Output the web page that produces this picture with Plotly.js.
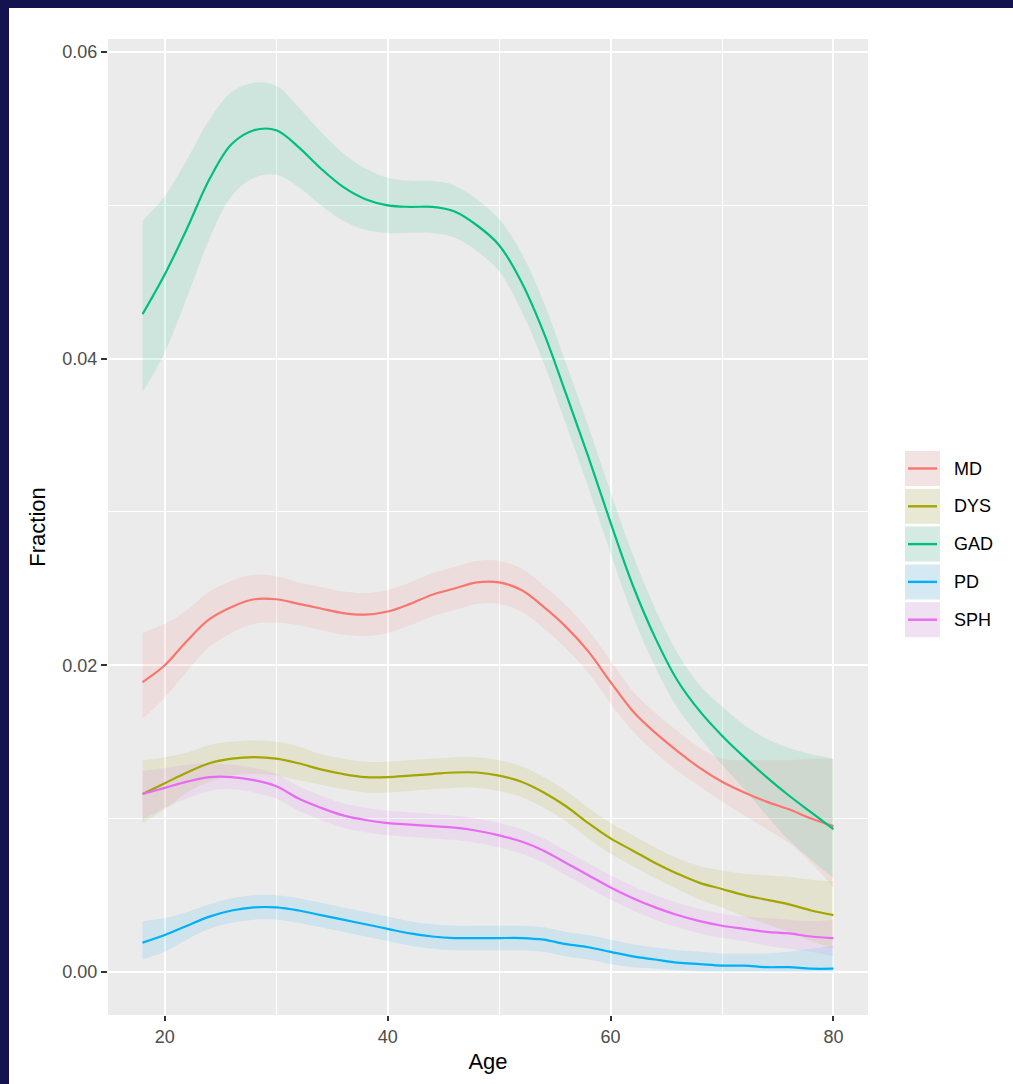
<!DOCTYPE html>
<html>
<head>
<meta charset="utf-8">
<script src="https://cdn.plot.ly/plotly-3.0.1.min.js"></script>
<style>
  html, body { margin: 0; padding: 0; width: 1013px; height: 1084px; background: #15134f; overflow: hidden; }
  #chart { position: absolute; left: 9px; top: 8px; width: 1004px; height: 1076px; background: #ffffff; }
</style>
</head>
<body>
<div id="chart"></div>
<script>
// ---- data ----
const ages = [18,20,22,24,26,28,30,32,34,36,38,40,42,44,46,48,50,52,54,56,58,60,62,64,66,68,70,72,74,76,78,80];

const seriesNames = ["MD", "DYS", "GAD", "PD", "SPH"];
const seriesColors = ["#F8766D", "#A3A500", "#00BF7D", "#00B0F6", "#E76BF3"];

const mdFit = [0.0189,0.0200,0.0216,0.0230,0.0238,0.0243,0.0243,0.0240,0.0237,0.0234,0.0233,0.0235,0.0240,0.0246,0.0250,0.0254,0.0254,0.0249,0.0238,0.0225,0.0209,0.0189,0.0170,0.0156,0.0144,0.0133,0.0124,0.0117,0.0111,0.0106,0.0100,0.0095];
const mdUpper = [0.0221,0.0227,0.0236,0.0248,0.0255,0.0259,0.0258,0.0254,0.0251,0.0248,0.0247,0.0249,0.0254,0.0260,0.0264,0.0268,0.0268,0.0263,0.0252,0.0239,0.0223,0.0203,0.0183,0.0169,0.0157,0.0146,0.0139,0.0138,0.0138,0.0138,0.0139,0.0139];
const mdLower = [0.0165,0.0179,0.0196,0.0212,0.0221,0.0227,0.0228,0.0226,0.0223,0.0220,0.0219,0.0221,0.0226,0.0232,0.0236,0.0240,0.0240,0.0235,0.0224,0.0211,0.0195,0.0175,0.0157,0.0143,0.0131,0.0121,0.0111,0.0102,0.0093,0.0084,0.0071,0.0055];

const dysFit = [0.0116,0.0123,0.0130,0.0136,0.0139,0.0140,0.0139,0.0136,0.0132,0.0129,0.0127,0.0127,0.0128,0.0129,0.0130,0.0130,0.0128,0.0124,0.0117,0.0108,0.0097,0.0087,0.0079,0.0071,0.0064,0.0058,0.0054,0.0050,0.0047,0.0044,0.0040,0.0037];
const dysUpper = [0.0138,0.0140,0.0143,0.0148,0.0150,0.0151,0.0150,0.0147,0.0142,0.0139,0.0137,0.0137,0.0138,0.0139,0.0140,0.0140,0.0138,0.0134,0.0127,0.0118,0.0107,0.0097,0.0089,0.0081,0.0074,0.0069,0.0066,0.0064,0.0063,0.0062,0.0060,0.0059];
const dysLower = [0.0097,0.0106,0.0117,0.0124,0.0128,0.0129,0.0128,0.0125,0.0122,0.0119,0.0117,0.0117,0.0118,0.0119,0.0120,0.0120,0.0118,0.0114,0.0107,0.0098,0.0087,0.0077,0.0069,0.0061,0.0054,0.0047,0.0042,0.0036,0.0031,0.0026,0.0020,0.0015];

const gadFit = [0.0429,0.0455,0.0485,0.0517,0.0540,0.0549,0.0549,0.0538,0.0524,0.0512,0.0504,0.0500,0.0499,0.0499,0.0496,0.0487,0.0474,0.0450,0.0417,0.0377,0.0336,0.0293,0.0252,0.0218,0.0190,0.0170,0.0154,0.0140,0.0127,0.0115,0.0104,0.0093];
const gadUpper = [0.0490,0.0506,0.0530,0.0556,0.0574,0.0580,0.0578,0.0564,0.0548,0.0534,0.0524,0.0518,0.0516,0.0516,0.0513,0.0504,0.0491,0.0469,0.0437,0.0397,0.0356,0.0313,0.0272,0.0237,0.0208,0.0187,0.0173,0.0161,0.0152,0.0146,0.0142,0.0139];
const gadLower = [0.0378,0.0404,0.0440,0.0478,0.0506,0.0518,0.0520,0.0512,0.0500,0.0490,0.0484,0.0482,0.0482,0.0482,0.0479,0.0470,0.0457,0.0431,0.0397,0.0357,0.0316,0.0273,0.0232,0.0199,0.0172,0.0153,0.0135,0.0119,0.0102,0.0086,0.0073,0.0061];

const pdFit = [0.0019,0.0024,0.0030,0.0036,0.0040,0.0042,0.0042,0.0040,0.0037,0.0034,0.0031,0.0028,0.0025,0.0023,0.0022,0.0022,0.0022,0.0022,0.0021,0.0018,0.0016,0.0013,0.0010,0.0008,0.0006,0.0005,0.0004,0.0004,0.0003,0.0003,0.0002,0.0002];
const pdUpper = [0.0033,0.0035,0.0039,0.0044,0.0048,0.0050,0.0050,0.0048,0.0045,0.0042,0.0039,0.0036,0.0033,0.0031,0.0030,0.0030,0.0030,0.0030,0.0029,0.0026,0.0024,0.0021,0.0018,0.0016,0.0014,0.0013,0.0012,0.0012,0.0012,0.0013,0.0015,0.0017];
const pdLower = [0.0008,0.0013,0.0021,0.0028,0.0032,0.0034,0.0034,0.0032,0.0029,0.0026,0.0023,0.0020,0.0017,0.0015,0.0014,0.0014,0.0014,0.0014,0.0013,0.0010,0.0008,0.0005,0.0003,0.0002,0.0001,0.0000,0.0000,0.0000,0.0000,0.0000,0.0000,0.0000];

const sphFit = [0.0116,0.0120,0.0124,0.0127,0.0127,0.0125,0.0121,0.0113,0.0107,0.0102,0.0099,0.0097,0.0096,0.0095,0.0094,0.0092,0.0089,0.0085,0.0079,0.0071,0.0063,0.0055,0.0048,0.0042,0.0037,0.0033,0.0030,0.0028,0.0026,0.0025,0.0023,0.0022];
const sphUpper = [0.0131,0.0133,0.0135,0.0136,0.0135,0.0133,0.0129,0.0121,0.0115,0.0110,0.0107,0.0105,0.0104,0.0103,0.0102,0.0100,0.0097,0.0093,0.0087,0.0079,0.0071,0.0063,0.0056,0.0050,0.0045,0.0041,0.0038,0.0036,0.0035,0.0034,0.0033,0.0034];
const sphLower = [0.0099,0.0107,0.0113,0.0118,0.0119,0.0117,0.0113,0.0105,0.0099,0.0094,0.0091,0.0089,0.0088,0.0087,0.0086,0.0084,0.0081,0.0077,0.0071,0.0063,0.0055,0.0047,0.0040,0.0034,0.0029,0.0025,0.0022,0.0020,0.0017,0.0015,0.0013,0.0010];

const xTickVals = [20, 40, 60, 80];
const yTickVals = [0.00, 0.02, 0.04, 0.06];
const xTitle = "Age";
const yTitle = "Fraction";

// ---- build ----
const fits = [mdFit, dysFit, gadFit, pdFit, sphFit];
const uppers = [mdUpper, dysUpper, gadUpper, pdUpper, sphUpper];
const lowers = [mdLower, dysLower, gadLower, pdLower, sphLower];
const ribbonAlpha = 0.12;
const FONT = 'Liberation Sans, Arial, sans-serif';

function rgba(hex, a) {
  const r = parseInt(hex.slice(1,3),16), g = parseInt(hex.slice(3,5),16), b = parseInt(hex.slice(5,7),16);
  return `rgba(${r},${g},${b},${a})`;
}

const traces = [];
seriesNames.forEach((name, i) => {
  const col = seriesColors[i];
  traces.push({ x: ages, y: lowers[i], type: 'scatter', mode: 'lines',
    line: { width: 0, shape: 'spline', smoothing: 1 }, showlegend: false, hoverinfo: 'skip' });
  traces.push({ x: ages, y: uppers[i], type: 'scatter', mode: 'lines', fill: 'tonexty',
    fillcolor: rgba(col, ribbonAlpha),
    line: { width: 0, shape: 'spline', smoothing: 1 }, showlegend: false, hoverinfo: 'skip' });
});
seriesNames.forEach((name, i) => {
  traces.push({ x: ages, y: fits[i], type: 'scatter', mode: 'lines', name: name,
    line: { color: seriesColors[i], width: 2.2, shape: 'spline', smoothing: 1 }, showlegend: false });
});

// custom ggplot-style legend (keys drawn in pixel units anchored to the plot's right/top edge)
const shapes = [];
const annotations = [];
const keyTop0 = 412, keyStep = 37.8, keySize = 35;   // px below plot top
const plotH = 976;
seriesNames.forEach((name, i) => {
  const top = keyTop0 + i * keyStep;
  const base = { xref: 'paper', yref: 'paper', xsizemode: 'pixel', ysizemode: 'pixel', xanchor: 1, yanchor: 1, layer: 'above' };
  shapes.push(Object.assign({}, base, { type: 'rect', x0: 37, x1: 72, y0: -top, y1: -(top + keySize),
    fillcolor: '#F2F2F2', line: { width: 0 } }));
  shapes.push(Object.assign({}, base, { type: 'rect', x0: 37, x1: 72, y0: -top, y1: -(top + keySize),
    fillcolor: rgba(seriesColors[i], ribbonAlpha), line: { width: 0 } }));
  shapes.push(Object.assign({}, base, { type: 'line', x0: 40, x1: 69, y0: -(top + keySize/2), y1: -(top + keySize/2),
    line: { color: seriesColors[i], width: 2.4 } }));
  annotations.push({ xref: 'paper', yref: 'paper', x: 1 + 84/760, y: 1 - (top + keySize/2)/plotH,
    xanchor: 'left', yanchor: 'middle', showarrow: false, text: name,
    font: { family: FONT, size: 18, color: '#000000' } });
});

const layout = {
  width: 1004, height: 1076,
  margin: { l: 99, r: 145, t: 31, b: 69, pad: 0 },
  paper_bgcolor: '#ffffff',
  plot_bgcolor: '#EBEBEB',
  showlegend: false,
  hovermode: false,
  font: { family: FONT, size: 18, color: '#4D4D4D' },
  xaxis: {
    range: [14.9, 83.1], tickvals: xTickVals, ticktext: xTickVals.map(String),
    showgrid: true, gridcolor: '#FFFFFF', gridwidth: 2, zeroline: false, showline: false,
    ticks: 'outside', ticklen: 5, tickwidth: 2, tickcolor: '#333333',
    tickfont: { family: FONT, size: 18, color: '#4D4D4D' },
    minor: { tickvals: [30, 50, 70], showgrid: true, gridcolor: '#FFFFFF', gridwidth: 1, ticks: '' },
    title: { text: xTitle, font: { family: FONT, size: 22, color: '#000000' }, standoff: 8 },
    automargin: false, fixedrange: true
  },
  yaxis: {
    range: [-0.00282, 0.06085], tickvals: yTickVals, ticktext: yTickVals.map(v => v.toFixed(2)),
    showgrid: true, gridcolor: '#FFFFFF', gridwidth: 2, zeroline: false, showline: false,
    ticks: 'outside', ticklen: 6, tickwidth: 2, tickcolor: '#333333',
    tickfont: { family: FONT, size: 18, color: '#4D4D4D' },
    minor: { tickvals: [0.01, 0.03, 0.05], showgrid: true, gridcolor: '#FFFFFF', gridwidth: 1, ticks: '' },
    title: { text: yTitle, font: { family: FONT, size: 22, color: '#000000' }, standoff: 10 },
    automargin: false, fixedrange: true
  },
  shapes: shapes,
  annotations: annotations
};

Plotly.newPlot('chart', traces, layout, { staticPlot: true, displayModeBar: false });
</script>
</body>
</html>
